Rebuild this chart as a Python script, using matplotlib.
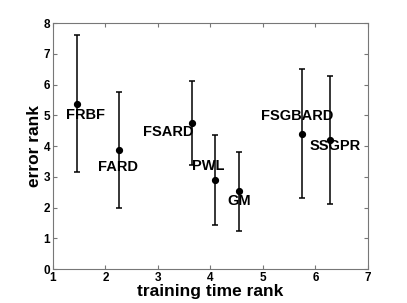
import matplotlib
matplotlib.use('Agg')
import matplotlib.pyplot as plt

# data
methods = ['FRBF', 'FARD', 'FSARD', 'PWL', 'GM', 'FSGBARD', 'SSGPR']
time_rank = [1.45, 2.26, 3.64, 4.09, 4.55, 5.74, 6.28]
error_rank = [5.37, 3.87, 4.74, 2.90, 2.53, 4.40, 4.20]
error_std = [2.23, 1.90, 1.37, 1.46, 1.29, 2.10, 2.08]

# label offsets (data units) relative to each point
label_dx = [0.17, -0.02, -0.44, -0.13, 0.00, -0.08, 0.09]
label_dy = [-0.37, -0.56, -0.27, 0.46, -0.32, 0.59, -0.19]

plt.rcParams['font.family'] = ['Liberation Sans', 'DejaVu Sans']

fig = plt.figure(figsize=(4.07, 3.03), dpi=100)
ax = fig.add_axes([0.130, 0.112, 0.774, 0.812])

ax.errorbar(time_rank, error_rank, yerr=error_std, fmt='o', color='black',
            ecolor='black', elinewidth=1.1, capsize=2.2, capthick=1.1,
            markersize=4.2, zorder=3)

for m, x, y, dx, dy in zip(methods, time_rank, error_rank, label_dx, label_dy):
    ax.text(x + dx, y + dy, m, fontsize=10.5, fontweight='bold',
            ha='center', va='center', zorder=4)

ax.set_xlim(1, 7)
ax.set_ylim(0, 8)
ax.set_xticks(range(1, 8))
ax.set_yticks(range(0, 9))
ax.tick_params(direction='in', top=True, right=True, length=3,
               color='#777777', labelsize=8.5, pad=2)
for lbl in ax.get_xticklabels() + ax.get_yticklabels():
    lbl.set_fontweight('bold')
for sp in ax.spines.values():
    sp.set_color('#777777')
    sp.set_linewidth(0.8)

ax.set_xlabel('training time rank', fontsize=12.5, fontweight='bold', labelpad=0)
ax.set_ylabel('error rank', fontsize=12.5, fontweight='bold', labelpad=1)

fig.savefig('out.png', dpi=100)
